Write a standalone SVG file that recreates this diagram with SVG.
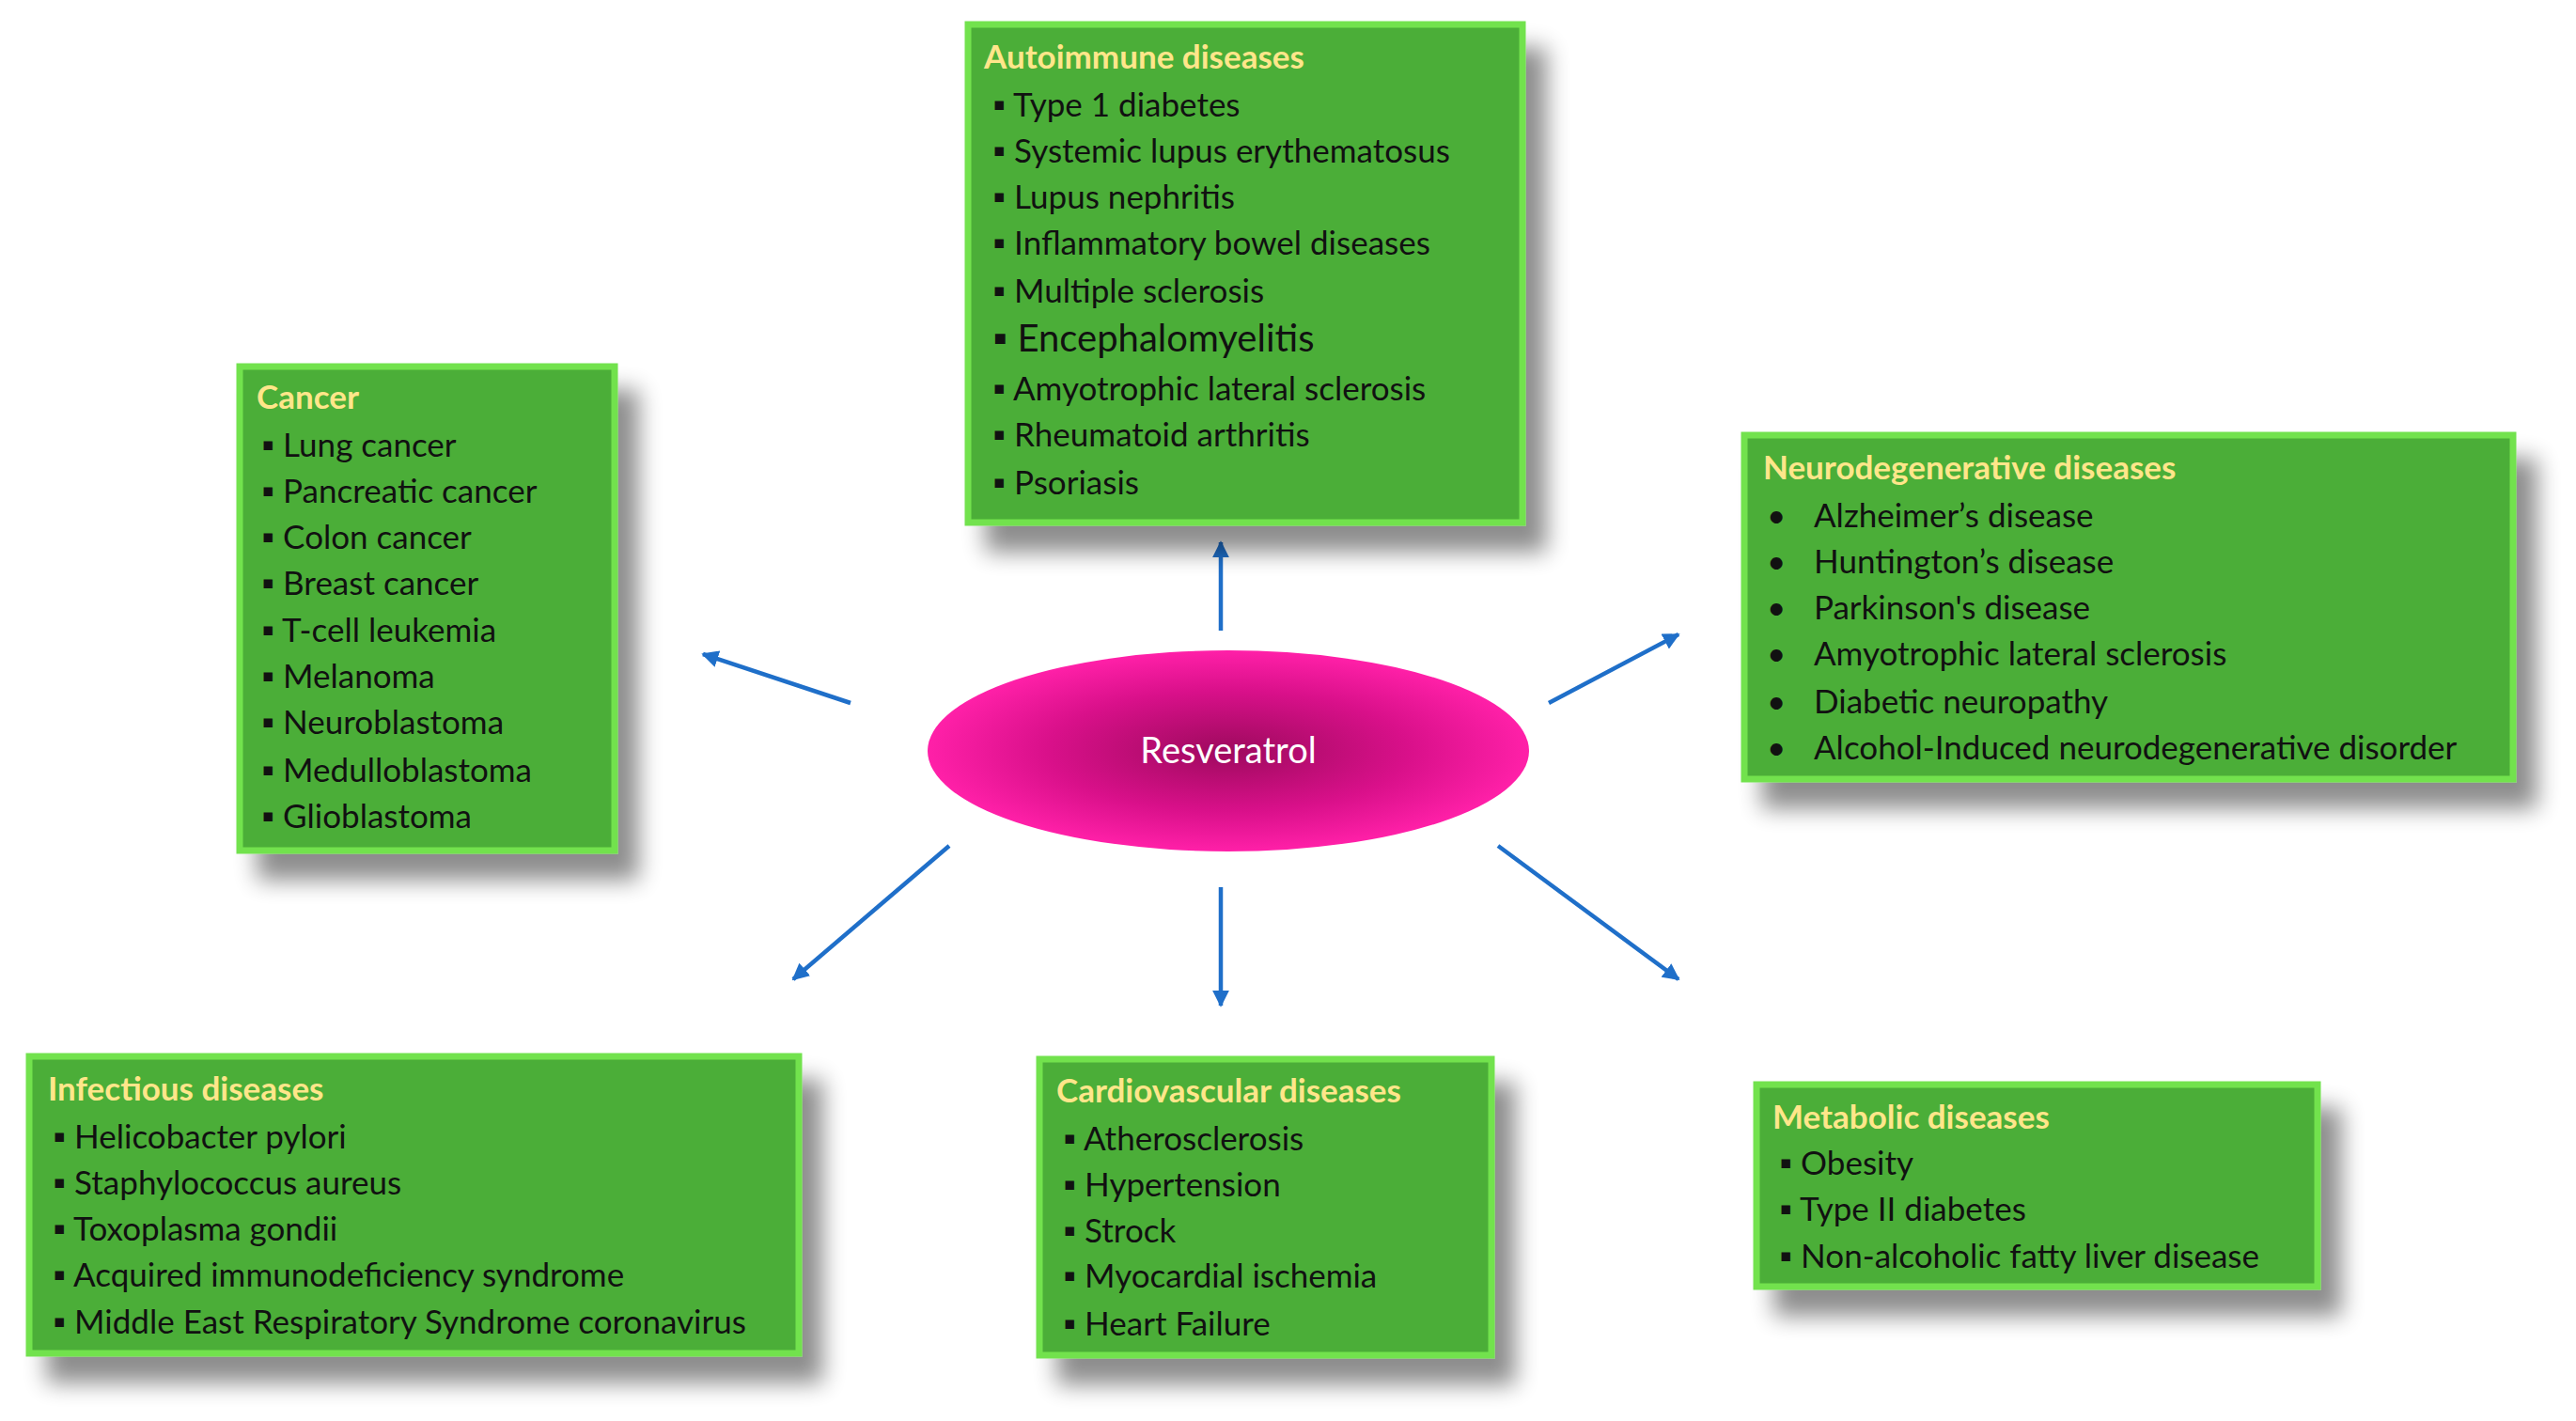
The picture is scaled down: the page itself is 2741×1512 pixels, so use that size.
<svg xmlns="http://www.w3.org/2000/svg" width="2741" height="1512" viewBox="0 0 2741 1512">
<defs>
<filter id="sh" x="-20%" y="-20%" width="150%" height="150%"><feGaussianBlur in="SourceAlpha" stdDeviation="12"/><feOffset dx="22" dy="28"/><feComponentTransfer><feFuncA type="linear" slope="0.45"/></feComponentTransfer><feMerge><feMergeNode/><feMergeNode in="SourceGraphic"/></feMerge></filter>
<radialGradient id="rg" cx="0.5" cy="0.5" r="0.5"><stop offset="0" stop-color="#9E0A5E"/><stop offset="0.6" stop-color="#D9108A"/><stop offset="1" stop-color="#FF20A8"/></radialGradient>
<marker id="ah" viewBox="0 0 10 10" refX="9" refY="5" markerWidth="4" markerHeight="4" orient="auto"><path d="M0,0 L10,5 L0,10 z" fill="#1F6FC9"/></marker>
</defs>
<style>
.box{fill:#4BAE38;stroke:#72E24E;stroke-width:7;filter:url(#sh)}
text{font-family:Lato,"Liberation Sans",sans-serif;font-size:35px;fill:#111}
.t{font-weight:bold;fill:#FFE68A}
.c line{stroke:#1F6FC9;stroke-width:4.5;marker-end:url(#ah)}
</style>
<rect width="2741" height="1512" fill="#fff"/>
<g class="c">
<line x1="1299" y1="671" x2="1299" y2="577"/>
<line x1="905" y1="748" x2="748" y2="696"/>
<line x1="1648" y1="748" x2="1786" y2="675"/>
<line x1="1010" y1="900" x2="844" y2="1042"/>
<line x1="1299" y1="944" x2="1299" y2="1070"/>
<line x1="1594" y1="900" x2="1786" y2="1042"/>
</g>
<g id="center"><ellipse cx="1307" cy="799" rx="320" ry="107" fill="url(#rg)"/><text x="1307" y="812" text-anchor="middle" style="fill:#fff;font-size:38px">Resveratrol</text></g>
<g id="autoimmune"><rect class="box" x="1030" y="26" width="590" height="530"/>
<text class="t" x="1047" y="73">Autoimmune  diseases</text>
<text x="1056" y="124">▪  Type 1 diabetes</text>
<text x="1056" y="173">▪  Systemic lupus erythematosus</text>
<text x="1056" y="222">▪  Lupus nephritis</text>
<text x="1056" y="271">▪  Inflammatory bowel diseases</text>
<text x="1056" y="322">▪  Multiple sclerosis</text>
<text x="1056" y="374" style="font-size:40px">▪  Encephalomyelitis</text>
<text x="1056" y="426">▪  Amyotrophic lateral sclerosis</text>
<text x="1056" y="475">▪  Rheumatoid  arthritis</text>
<text x="1056" y="526">▪  Psoriasis</text></g>
<g id="cancer"><rect class="box" x="255" y="390" width="399" height="515"/>
<text class="t" x="273" y="435">Cancer</text>
<text x="278" y="486">▪  Lung cancer</text>
<text x="278" y="535">▪  Pancreatic cancer</text>
<text x="278" y="584">▪  Colon cancer</text>
<text x="278" y="633">▪  Breast cancer</text>
<text x="278" y="683">▪  T-cell leukemia</text>
<text x="278" y="732">▪  Melanoma</text>
<text x="278" y="781">▪  Neuroblastoma</text>
<text x="278" y="832">▪  Medulloblastoma</text>
<text x="278" y="881">▪  Glioblastoma</text></g>
<g id="neuro"><rect class="box" x="1856" y="463" width="818" height="366"/>
<text class="t" x="1876" y="510">Neurodegenerative diseases</text>
<text x="1880" y="561">•</text><text x="1930" y="561">Alzheimer’s disease</text>
<text x="1880" y="610">•</text><text x="1930" y="610">Huntington’s disease</text>
<text x="1880" y="659">•</text><text x="1930" y="659">Parkinson's disease</text>
<text x="1880" y="708">•</text><text x="1930" y="708">Amyotrophic lateral sclerosis</text>
<text x="1880" y="759">•</text><text x="1930" y="759">Diabetic neuropathy</text>
<text x="1880" y="808">•</text><text x="1930" y="808">Alcohol-Induced  neurodegenerative  disorder</text></g>
<g id="infectious"><rect class="box" x="31" y="1124" width="819" height="316"/>
<text class="t" x="51" y="1171">Infectious diseases</text>
<text x="56" y="1222">▪  Helicobacter pylori</text>
<text x="56" y="1271">▪  Staphylococcus aureus</text>
<text x="56" y="1320">▪  Toxoplasma gondii</text>
<text x="56" y="1369">▪  Acquired immunodeficiency syndrome</text>
<text x="56" y="1419">▪  Middle East Respiratory Syndrome coronavirus</text></g>
<g id="cardio"><rect class="box" x="1106" y="1127" width="481" height="315"/>
<text class="t" x="1124" y="1173">Cardiovascular  diseases</text>
<text x="1131" y="1224">▪  Atherosclerosis</text>
<text x="1131" y="1273">▪  Hypertension</text>
<text x="1131" y="1322">▪  Strock</text>
<text x="1131" y="1370">▪  Myocardial ischemia</text>
<text x="1131" y="1421">▪  Heart Failure</text></g>
<g id="metabolic"><rect class="box" x="1869" y="1154" width="597" height="215"/>
<text class="t" x="1886" y="1201">Metabolic diseases</text>
<text x="1893" y="1250">▪  Obesity</text>
<text x="1893" y="1299">▪  Type II diabetes</text>
<text x="1893" y="1349">▪  Non-alcoholic fatty liver disease</text></g>
</svg>
